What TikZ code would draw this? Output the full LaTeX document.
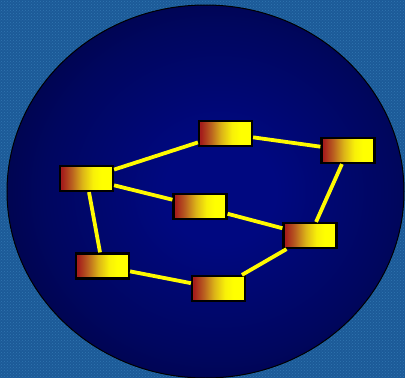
\documentclass[tikz,border=0pt]{standalone}
\usetikzlibrary{patterns}
\definecolor{bgblue}{RGB}{28,90,152}
\definecolor{bgdot}{RGB}{48,118,176}
\definecolor{navyc}{RGB}{0,8,128}
\definecolor{navym}{RGB}{0,6,95}
\definecolor{navye}{RGB}{0,2,56}
\definecolor{boxred}{RGB}{165,30,28}
\definecolor{boxora}{RGB}{185,95,32}
\definecolor{boxgold}{RGB}{220,180,24}
\definecolor{boxlt}{RGB}{248,240,8}
\definecolor{boxyel}{RGB}{255,255,0}
\definecolor{linkyel}{RGB}{255,250,0}
\pgfdeclareradialshading{ellshade}{\pgfpoint{2bp}{0bp}}{color(0bp)=(navyc); color(7bp)=(navyc); color(22bp)=(navym); color(35bp)=(navye); color(100bp)=(navye)}
\pgfdeclarehorizontalshading{boxshade}{100bp}{color(0bp)=(boxred); color(27bp)=(boxred); color(36bp)=(boxora); color(46bp)=(boxgold); color(56bp)=(boxlt); color(64bp)=(boxyel); color(100bp)=(boxyel)}
\tikzset{
  netbox/.style={draw=black, line width=2.2pt, shading=boxshade, minimum width=53pt, minimum height=25pt, inner sep=0pt},
  link/.style={draw=linkyel, line width=3.8pt}
}
\begin{document}
\begin{tikzpicture}[x=1pt,y=-1pt]
\useasboundingbox (0,0) rectangle (405,378);
\clip (0,0) rectangle (405,378);
\fill[bgblue] (0,0) rectangle (405,378);
\fill[pattern=crosshatch dots, pattern color=bgdot] (0,0) rectangle (405,378);
\draw[black, line width=1pt, shading=ellshade] (205.5,191.5) ellipse [x radius=198.5, y radius=186.5];
\node[netbox] (a) at (86.5,178.5) {};
\node[netbox] (b) at (225.5,133.5) {};
\node[netbox] (c) at (348,150.5) {};
\node[netbox] (d) at (200,206.5) {};
\node[netbox] (e) at (310,235.5) {};
\node[netbox] (f) at (102.5,266) {};
\node[netbox] (g) at (218.5,288.5) {};
\draw[link] (a) -- (b);
\draw[link] (a) -- (d);
\draw[link] (a) -- (f);
\draw[link] (b) -- (c);
\draw[link] (c) -- (e);
\draw[link] (d) -- (e);
\draw[link] (f) -- (g);
\draw[link] (g) -- (e);
\end{tikzpicture}
\end{document}
